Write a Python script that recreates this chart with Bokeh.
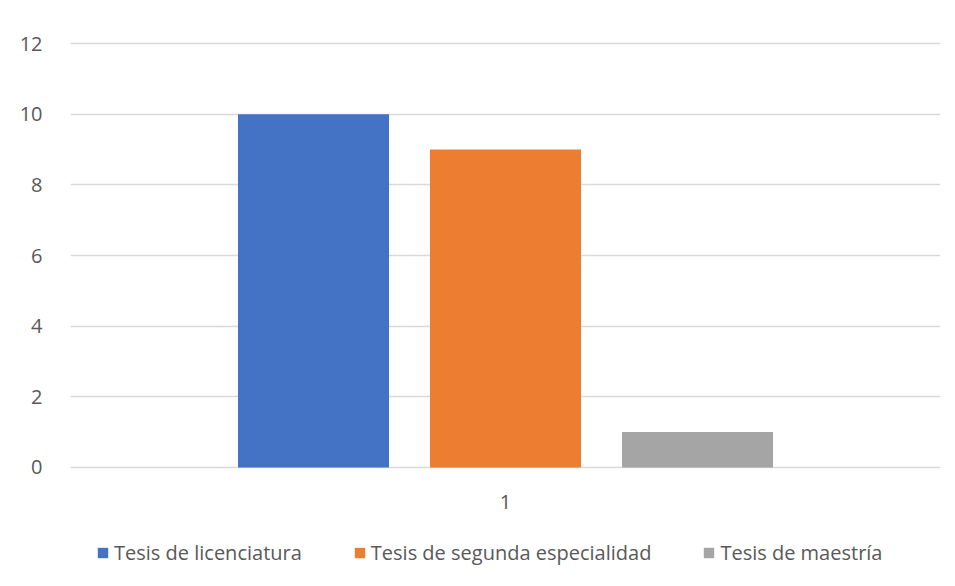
from bokeh.plotting import figure
from bokeh.layouts import column
from bokeh.models import FactorRange, Range1d, Legend, LegendItem, FixedTicker
from bokeh.transform import dodge
from bokeh.embed import file_html
from bokeh.resources import INLINE

categories = ["1"]
series_names = ["Tesis de licenciatura", "Tesis de segunda especialidad", "Tesis de maestría"]
licenciatura = [10]
segunda_especialidad = [9]
maestria = [1]
y_ticks = [0, 2, 4, 6, 8, 10, 12]

colors = ["#4472C4", "#ED7D31", "#A5A5A5"]
FONT = "Open Sans"
TXT = "#595959"
GRID = "#d9d9d9"
FS = "20px"

data = {"cat": categories, "s0": licenciatura, "s1": segunda_especialidad, "s2": maestria}

p = figure(width=947, height=520, x_range=FactorRange(*categories, range_padding=0),
           y_range=Range1d(-0.06, 12.06), output_backend="svg", toolbar_location=None,
           min_border_left=70, min_border_right=7, min_border_top=41, min_border_bottom=51)

offsets = [-0.2207, 0.0, 0.2207]
for i, key in enumerate(["s0", "s1", "s2"]):
    p.vbar(x=dodge("cat", offsets[i], range=p.x_range), top=key, width=0.1736,
           source=data, fill_color=colors[i], line_color=None)

p.outline_line_color = None
p.xgrid.grid_line_color = None
p.ygrid.grid_line_color = GRID
p.ygrid.grid_line_width = 1.5
p.yaxis.ticker = FixedTicker(ticks=y_ticks)

for ax in (p.xaxis, p.yaxis):
    ax.axis_line_color = None
    ax.major_tick_line_color = None
    ax.minor_tick_line_color = None
    ax.major_label_text_font = FONT
    ax.major_label_text_font_size = FS
    ax.major_label_text_color = TXT
p.yaxis.major_label_standoff = 22
p.xaxis.major_label_standoff = 19

# legend strip (zero-height swatch renderers, used only for the legend glyphs)
p2 = figure(width=947, height=64, x_range=(0, 1), y_range=(0, 1), output_backend="svg",
            toolbar_location=None, min_border_left=70, min_border_right=7,
            min_border_top=0, min_border_bottom=0)
p2.axis.visible = False
p2.grid.visible = False
p2.outline_line_color = None
swatches = [p2.vbar(x=[0.5], top=[0.5], bottom=[0.5], width=0.0, fill_color=colors[i],
                    line_color=None) for i in range(3)]
legend = Legend(items=[LegendItem(label=series_names[i], renderers=[swatches[i]]) for i in range(3)],
                orientation="horizontal", location=(26, 18),
                label_text_font=FONT, label_text_font_size=FS, label_text_color=TXT,
                glyph_width=13, glyph_height=13, spacing=51, label_standoff=5,
                border_line_color=None, background_fill_alpha=0, margin=0, padding=0)
p2.add_layout(legend, "center")

layout = column(p, p2, spacing=0)
open("out.html", "w").write(file_html(layout, INLINE))
